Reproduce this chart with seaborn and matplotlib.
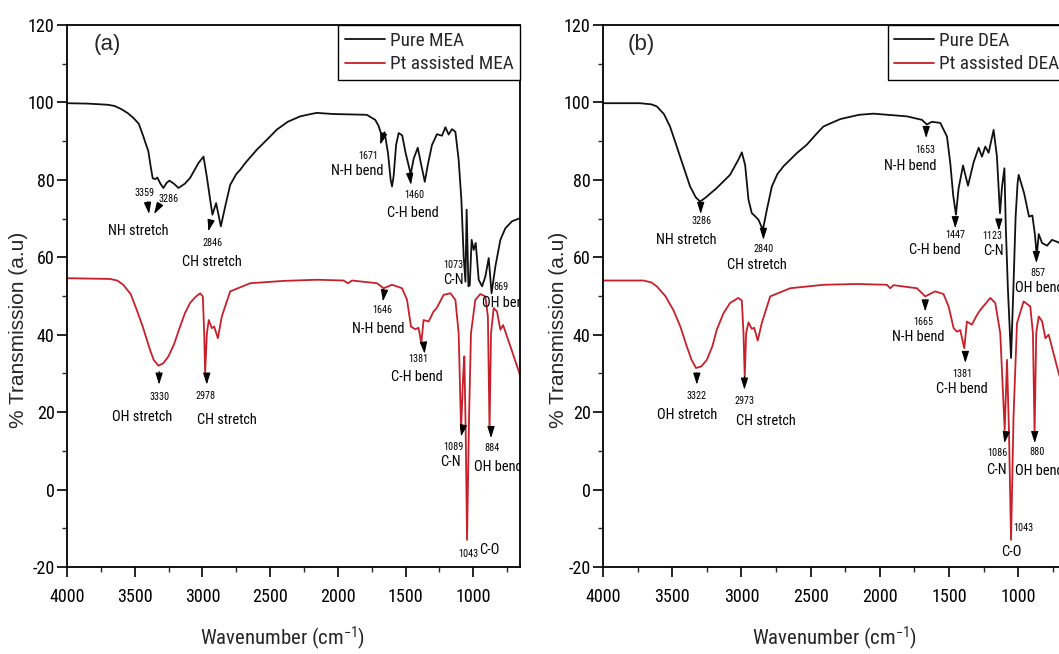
import os
import matplotlib
matplotlib.use("Agg")
import numpy as np
import pandas as pd
import seaborn as sns
import matplotlib.pyplot as plt
from matplotlib.ticker import MultipleLocator
from matplotlib import font_manager as fm
from matplotlib.textpath import TextPath

# ---------------- data ----------------
mea_pure_wn = [4000, 3850, 3700, 3650, 3600, 3550, 3510, 3470, 3436, 3420, 3400, 3380, 3367, 3348,
               3333, 3310, 3288, 3265, 3244, 3210, 3177, 3130, 3091, 3030, 2992, 2968, 2943, 2926,
               2899, 2864, 2832, 2795, 2750, 2721, 2680, 2598, 2520, 2450, 2370, 2278, 2200, 2155,
               2032, 1900, 1786, 1724, 1700, 1674, 1655, 1630, 1610, 1600, 1588, 1570, 1551, 1525,
               1500, 1462, 1440, 1410, 1385, 1358, 1335, 1305, 1268, 1231, 1206, 1182, 1157, 1132,
               1108, 1088, 1071, 1058, 1049, 1036, 1026, 1012, 997, 982, 960, 935, 911, 886, 865,
               837, 800, 763, 714, 655]
mea_pure_t = [99.8, 99.7, 99.4, 99.1, 98.3, 97.2, 96.0, 94.5, 91.2, 89.5, 87.5, 83.0, 80.4, 80.2,
              80.6, 79.0, 77.9, 79.2, 79.8, 79.0, 77.9, 79.0, 80.5, 84.3, 86.0, 80.9, 74.9, 71.0,
              74.0, 68.0, 73.1, 78.7, 81.5, 82.6, 84.5, 87.8, 90.5, 93.0, 95.0, 96.4, 97.0, 97.3,
              97.0, 96.9, 96.8, 95.5, 94.0, 91.2, 92.3, 87.0, 80.0, 78.3, 81.0, 89.0, 92.1, 91.5,
              87.0, 81.5, 85.5, 88.3, 84.0, 79.5, 84.0, 89.0, 91.8, 91.4, 93.6, 91.7, 93.1, 92.4,
              85.2, 74.9, 60.2, 53.7, 72.3, 52.5, 52.8, 64.5, 61.9, 63.7, 54.2, 52.5, 55.0, 59.8,
              50.7, 57.6, 64.5, 67.5, 69.3, 70.1]

mea_pt_wn = [4000, 3682, 3630, 3584, 3530, 3485, 3440, 3387, 3360, 3325, 3290, 3251, 3210, 3165,
             3130, 3091, 3050, 3017, 2997, 2987, 2980, 2967, 2953, 2931, 2913, 2886, 2857, 2795,
             2647, 2401, 2155, 1958, 1925, 1895, 1711, 1662, 1600, 1526, 1489, 1460, 1428, 1404,
             1384, 1367, 1330, 1293, 1270, 1219, 1169, 1132, 1108, 1090, 1075, 1066, 1056, 1046,
             1031, 1017, 985, 948, 911, 892, 880, 869, 849, 825, 800, 780, 726, 655]
mea_pt_t = [54.6, 54.4, 54.0, 52.9, 50.5, 46.4, 42.0, 36.1, 33.5, 32.0, 32.6, 34.4, 37.5, 42.1,
            45.5, 48.2, 49.8, 50.7, 49.9, 40.4, 30.1, 40.4, 43.8, 41.7, 42.1, 39.1, 44.7, 51.2,
            53.3, 53.9, 54.2, 54.0, 53.3, 54.0, 53.3, 52.0, 52.9, 52.0, 49.0, 42.1, 41.4, 41.8,
            37.8, 43.8, 43.4, 46.0, 46.9, 50.3, 50.7, 49.0, 40.4, 15.4, 29.2, 34.4, 15.0, -13.0,
            18.9, 40.4, 49.0, 50.5, 49.9, 44.7, 15.4, 40.4, 46.9, 46.0, 41.3, 42.5, 37.0, 29.6]

dea_pure_wn = [4000, 3732, 3650, 3612, 3560, 3516, 3480, 3443, 3371, 3330, 3299, 3263, 3178, 3082,
               3022, 2997, 2973, 2949, 2925, 2901, 2877, 2845, 2816, 2780, 2740, 2696, 2600, 2527,
               2460, 2407, 2286, 2150, 2046, 1804, 1696, 1660, 1624, 1563, 1515, 1491, 1470, 1450,
               1431, 1399, 1363, 1322, 1286, 1262, 1238, 1214, 1178, 1154, 1132, 1117, 1100, 1090,
               1075, 1052, 1035, 1019, 1005, 997, 958, 922, 898, 880, 866, 852, 828, 792, 756, 720,
               655]
dea_pure_t = [99.8, 99.8, 99.5, 99.0, 97.0, 93.8, 90.0, 86.0, 78.3, 75.5, 74.4, 75.3, 77.9, 81.3,
              85.2, 87.1, 83.8, 74.9, 71.4, 70.6, 69.7, 67.1, 72.3, 78.3, 81.5, 83.5, 86.9, 89.1,
              91.8, 93.8, 95.7, 96.8, 97.1, 96.4, 95.5, 94.3, 95.0, 94.7, 91.2, 84.3, 76.0, 71.0,
              77.8, 83.7, 78.5, 84.6, 88.3, 86.0, 88.6, 87.0, 92.9, 86.0, 71.4, 78.3, 83.0, 68.0,
              52.0, 34.0, 52.0, 70.5, 79.0, 81.3, 76.6, 70.5, 70.8, 66.0, 60.5, 66.0, 63.7, 63.0,
              64.5, 64.0, 63.0]

dea_pt_wn = [4000, 3708, 3650, 3612, 3550, 3492, 3440, 3395, 3360, 3328, 3290, 3250, 3210, 3178,
             3130, 3082, 3022, 2997, 2985, 2976, 2966, 2949, 2925, 2908, 2882, 2853, 2792, 2648,
             2407, 2166, 1949, 1925, 1901, 1732, 1672, 1600, 1540, 1503, 1467, 1443, 1419, 1390,
             1371, 1335, 1298, 1274, 1202, 1166, 1130, 1098, 1081, 1067, 1052, 1034, 1009, 961,
             913, 894, 882, 870, 852, 828, 804, 780, 708, 655]
dea_pt_t = [54.0, 54.0, 53.5, 52.5, 50.0, 46.4, 42.0, 37.0, 33.5, 31.4, 31.8, 33.5, 37.0, 41.3,
            45.5, 48.2, 49.5, 48.8, 40.4, 28.8, 40.4, 43.2, 41.5, 41.8, 38.5, 43.0, 49.9, 52.0,
            52.9, 53.1, 52.9, 52.0, 52.8, 52.0, 49.9, 51.2, 50.5, 47.3, 41.7, 40.8, 41.2, 36.5,
            43.4, 42.6, 45.1, 46.4, 49.5, 48.2, 40.4, 15.4, 33.5, 15.0, -13.0, 18.9, 43.0, 48.6,
            47.3, 40.4, 14.6, 40.4, 44.7, 43.5, 39.1, 40.0, 30.1, 24.0]

series_labels_a = ["Pure MEA", "Pt assisted MEA"]
series_labels_b = ["Pure DEA", "Pt assisted DEA"]
panel_tags = ["(a)", "(b)"]
x_label = "Wavenumber (cm$^{-1}$)"
y_label = "% Transmission (a.u)"

# annotations: (text, wavenumber, value, kind, ha)
notes_a = [("3359", 3431, 76.7, "s", "center"), ("3286", 3251, 75.0, "s", "center"),
           ("NH stretch", 3473, 66.7, "m", "center"), ("2846", 2926, 63.8, "s", "center"),
           ("CH stretch", 2931, 58.9, "m", "center"), ("1671", 1773, 86.2, "s", "center"),
           ("N-H bend", 1854, 82.4, "m", "center"), ("1460", 1433, 76.1, "s", "center"),
           ("C-H bend", 1445, 71.4, "m", "center"), ("1073", 1150, 58.1, "s", "center"),
           ("C-N", 1145, 54.2, "m", "center"), ("869", 854, 52.3, "s", "left"),
           ("OH bend", 935, 48.2, "m", "left"), ("1646", 1670, 46.3, "s", "center"),
           ("N-H bend", 1699, 41.5, "m", "center"), ("1381", 1408, 33.7, "s", "center"),
           ("C-H bend", 1420, 29.2, "m", "center"), ("3330", 3313, 24.0, "s", "center"),
           ("OH stretch", 3448, 18.7, "m", "center"), ("2978", 2980, 24.2, "s", "center"),
           ("CH stretch", 2820, 18.0, "m", "center"), ("1089", 1144, 11.0, "s", "center"),
           ("C-N", 1169, 7.1, "m", "center"), ("884", 861, 10.7, "s", "center"),
           ("OH bend", 997, 5.8, "m", "left"), ("1043", 1038, -16.7, "s", "center"),
           ("C-O", 879, -15.6, "m", "center")]
arrows_a = [(3406, 74.4, 3394, 71.2), (3313, 73.8, 3357, 71.2), (2938, 69.3, 2956, 66.7),
            (1662, 91.9, 1687, 89.1), (1470, 81.8, 1460, 78.7), (1657, 51.2, 1667, 48.6),
            (1367, 37.8, 1359, 35.1), (3320, 30.5, 3320, 27.1), (2968, 29.6, 2968, 27.1),
            (1075, 16.3, 1090, 13.7), (869, 15.9, 869, 13.3)]

notes_b = [("3286", 3291, 69.3, "s", "center"), ("NH stretch", 3395, 64.5, "m", "center"),
           ("2840", 2841, 62.1, "s", "center"), ("CH stretch", 2889, 58.1, "m", "center"),
           ("1653", 1672, 87.8, "s", "center"), ("N-H bend", 1780, 83.6, "m", "center"),
           ("1447", 1455, 65.8, "s", "center"), ("C-H bend", 1599, 61.9, "m", "center"),
           ("1123", 1190, 65.4, "s", "center"), ("C-N", 1178, 61.5, "m", "center"),
           ("857", 860, 55.9, "s", "center"), ("OH bend", 1021, 52.0, "m", "left"),
           ("3322", 3322, 24.2, "s", "center"), ("OH stretch", 3395, 19.3, "m", "center"),
           ("2973", 2978, 23.0, "s", "center"), ("CH stretch", 2821, 17.8, "m", "center"),
           ("1665", 1688, 43.4, "s", "center"), ("N-H bend", 1725, 39.4, "m", "center"),
           ("1381", 1406, 29.9, "s", "center"), ("C-H bend", 1406, 25.9, "m", "center"),
           ("1086", 1149, 9.4, "s", "center"), ("C-N", 1158, 5.1, "m", "center"),
           ("880", 864, 9.7, "s", "center"), ("OH bend", 1021, 4.7, "m", "left"),
           ("1043", 961, -10.0, "s", "center"), ("C-O", 1052, -16.0, "m", "center")]
arrows_b = [(3294, 74.0, 3294, 71.2), (2841, 67.1, 2841, 64.5), (1665, 93.8, 1665, 90.8),
            (1455, 70.5, 1455, 67.5), (1140, 69.7, 1140, 66.9), (869, 62.8, 869, 58.5),
            (3322, 30.1, 3322, 27.1), (2978, 29.2, 2978, 25.8), (1672, 49.0, 1672, 46.0),
            (1382, 35.7, 1382, 32.7), (1086, 15.0, 1100, 12.0), (881, 15.0, 881, 12.0)]

# ---------------- fonts ----------------
sns.set_style("ticks")
plt.rcParams["axes.unicode_minus"] = False
plt.rcParams["mathtext.default"] = "regular"


def pick_narrow_font():
    files = {os.path.basename(f.fname).lower(): f.fname for f in fm.fontManager.ttflist}
    prefs = ["liberationsansnarrow-regular.ttf", "arialnarrow.ttf", "arial narrow.ttf",
             "notosans-condensed.ttf", "notosans-semicondensed.ttf",
             "robotocondensed-regular.ttf", "opensans-condensedregular.ttf",
             "opensans_condensed-regular.ttf", "dejavusanscondensed.ttf"]
    for p in prefs:
        if p in files:
            return fm.FontProperties(fname=files[p])
    for f in fm.fontManager.ttflist:
        if (str(f.stretch) in ("condensed", "semi-condensed") and f.style == "normal"
                and f.weight in (400, "normal", "regular")):
            return fm.FontProperties(fname=f.fname)
    return fm.FontProperties(family="Liberation Sans")


NARROW = pick_narrow_font()
REGULAR = fm.FontProperties(family="Liberation Sans")


def size_for(text, target_px, prop, cap=None):
    w = TextPath((0, 0), text, size=1, prop=prop).get_extents().width
    s = target_px * 72.0 / 100.0 / w
    if cap is not None:
        s = min(s, cap)
    return s


FS_TICK = size_for("4000", 34, NARROW, cap=14)
FS_LEG = size_for("Pt assisted MEA", 122, NARROW, cap=16)
FS_SMALL = size_for("3330", 19, NARROW, cap=10)
FS_MED = size_for("OH stretch", 59, NARROW, cap=13)
FS_XLAB = size_for("Wavenumber (cm)", 147, NARROW, cap=18)


def fp(size, base=NARROW):
    p = base.copy()
    p.set_size(size)
    return p


BLACK = "#111111"
RED = "#c8202a"

fig = plt.figure(figsize=(10.59, 6.54), dpi=100)
axA = fig.add_axes([67 / 1059, 87 / 654, 453 / 1059, 542 / 654])
axB = fig.add_axes([603 / 1059, 87 / 654, 463 / 1059, 542 / 654])


def make_df(wn1, t1, wn2, t2, labels):
    return pd.concat([
        pd.DataFrame({"wn": wn1, "T": t1, "sample": labels[0]}),
        pd.DataFrame({"wn": wn2, "T": t2, "sample": labels[1]}),
    ], ignore_index=True)


def draw(ax, df, labels, notes, arrows, tag, tag_x, xlab_x, ylab_x):
    sns.lineplot(data=df, x="wn", y="T", hue="sample", hue_order=labels,
                 palette={labels[0]: BLACK, labels[1]: RED}, sort=False,
                 estimator=None, linewidth=1.3, ax=ax, legend=False)
    ax.set_xlim(4000, 655)
    ax.set_ylim(-20, 120)
    ax.xaxis.set_major_locator(MultipleLocator(500))
    ax.xaxis.set_minor_locator(MultipleLocator(250))
    ax.yaxis.set_major_locator(MultipleLocator(20))
    ax.yaxis.set_minor_locator(MultipleLocator(10))
    for sp in ax.spines.values():
        sp.set_visible(True)
        sp.set_linewidth(1.3)
        sp.set_color("black")
    ax.tick_params(which="major", direction="out", length=7, width=1.2,
                   top=False, right=False, colors="black")
    ax.tick_params(which="minor", direction="out", length=3.5, width=1.0,
                   top=False, right=False)
    ax.tick_params(axis="x", which="major", pad=8)
    ax.tick_params(axis="y", which="major", pad=2)
    for lab in ax.get_xticklabels() + ax.get_yticklabels():
        lab.set_fontproperties(fp(FS_TICK))
    ax.set_xlabel(x_label, fontproperties=fp(FS_XLAB))
    ax.set_ylabel(y_label, fontproperties=fp(15, REGULAR))
    ax.xaxis.set_label_coords(xlab_x, -0.131)
    ax.xaxis.label.set_va("center")
    ax.yaxis.set_label_coords(ylab_x, 0.437)
    ax.yaxis.label.set_va("center")

    lines = ax.get_lines()[:2]
    leg = ax.legend(lines, labels, loc="upper right", bbox_to_anchor=(1, 1),
                    borderaxespad=0, frameon=True, fancybox=False, framealpha=1,
                    edgecolor="black", prop=fp(FS_LEG),
                    handlelength=2.1, handletextpad=0.25, labelspacing=0.3,
                    borderpad=0.35)
    leg.get_frame().set_linewidth(1.0)

    ax.text(tag_x, 114.9, tag, ha="center", va="center", fontproperties=fp(16, REGULAR))
    for txt, w, v, kind, ha in notes:
        ax.text(w, v, txt, ha=ha, va="center", color="black", clip_on=True,
                fontproperties=fp(FS_SMALL if kind == "s" else FS_MED))
    for w0, v0, w1, v1 in arrows:
        ax.annotate("", xy=(w1, v1), xytext=(w0, v0),
                    arrowprops=dict(arrowstyle="-|>,head_length=0.7,head_width=0.22",
                                    color="black", lw=0.8, shrinkA=0, shrinkB=0,
                                    mutation_scale=10))


draw(axA, make_df(mea_pure_wn, mea_pure_t, mea_pt_wn, mea_pt_t, series_labels_a),
     series_labels_a, notes_a, arrows_a, panel_tags[0], 3704, 0.477, -0.108)
draw(axB, make_df(dea_pure_wn, dea_pure_t, dea_pt_wn, dea_pt_t, series_labels_b),
     series_labels_b, notes_b, arrows_b, panel_tags[1], 3725, 0.50, -0.097)

fig.savefig("out.png", dpi=100, facecolor="white")
